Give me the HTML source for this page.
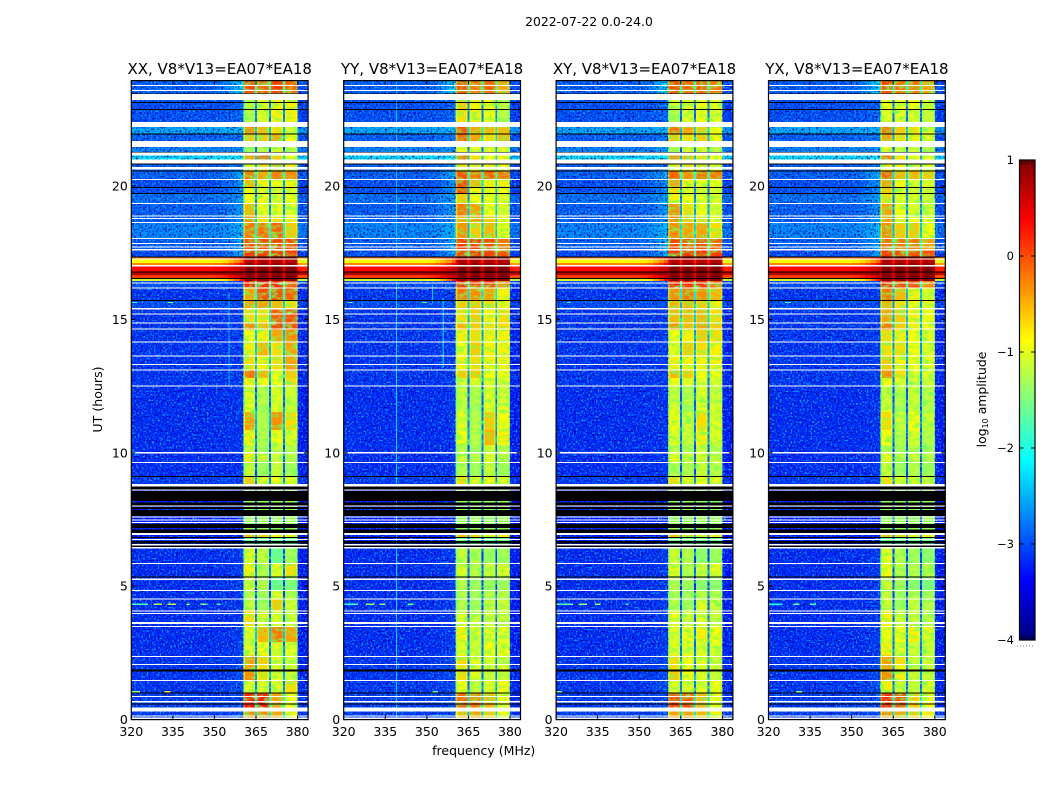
<!DOCTYPE html>
<html lang="en">
<head>
<meta charset="utf-8">
<title>2022-07-22 spectrogram</title>
<style>
html,body{margin:0;padding:0;background:#fff;width:1050px;height:800px;overflow:hidden}
svg{display:block}
text{font-family:"DejaVu Sans","Liberation Sans",sans-serif;fill:#000}
</style>
</head>
<body>
<svg id="chart" xmlns="http://www.w3.org/2000/svg" width="1050" height="800" viewBox="0 0 1050 800">
<defs>
<filter id="speckleLight" x="0" y="0" width="1" height="1" color-interpolation-filters="sRGB">
<feTurbulence type="fractalNoise" baseFrequency="0.55" numOctaves="1" seed="3"/>
<feColorMatrix type="matrix" values="0 0 0 0 0  0 0 0 0 0.72  0 0 0 0 1  3.6 0 0 0 -1.75"/>
</filter>
<filter id="speckleDark" x="0" y="0" width="1" height="1" color-interpolation-filters="sRGB">
<feTurbulence type="fractalNoise" baseFrequency="0.55" numOctaves="1" seed="11"/>
<feColorMatrix type="matrix" values="0 0 0 0 0  0 0 0 0 0  0 0 0 0 0.62  0 3.6 0 0 -1.75"/>
</filter>
<filter id="bandMottle" x="0" y="0" width="1" height="1" color-interpolation-filters="sRGB">
<feTurbulence type="fractalNoise" baseFrequency="0.14 0.28" numOctaves="2" seed="7"/>
<feColorMatrix type="matrix" values="0 0 0 0 0.45  0 0 0 0 1  0 0 0 0 0.35  2.4 0 0 0 -1.05"/>
</filter>
</defs>
<text x="589" y="26" font-size="12.4" text-anchor="middle">2022-07-22 0.0-24.0</text>
<text x="483.7" y="755" font-size="12.5" text-anchor="middle">frequency (MHz)</text>
<text transform="translate(102,399.5) rotate(-90)" font-size="12.6" text-anchor="middle">UT (hours)</text>
<text transform="translate(986,399.5) rotate(-90)" font-size="12.4" text-anchor="middle">log<tspan font-size="8" dy="2">10</tspan><tspan dy="-2"> amplitude</tspan></text>
<g id="panels"></g>
<g id="colorbar"></g>
</svg>
<script>
// ---- Figure data (log10 amplitude, UT hours, MHz) ----
const panelTitles = ["XX, V8*V13=EA07*EA18","YY, V8*V13=EA07*EA18","XY, V8*V13=EA07*EA18","YX, V8*V13=EA07*EA18"];
const freqTicks = [320,335,350,365,380];
const utTicks = [0,5,10,15,20];
const colorbarTicks = [-4,-3,-2,-1,0,1];

// Lower UT bound of each time segment, newest first
const segmentLowerUT = [23.47,22.86,22.4,21.94,21.68,21.28,21.0,20.56,20.22,19.95,19.72,19.35,18.86,18.63,18.04,17.6,17.33,17.25,17.12,17.0,16.78,16.66,16.55,16.44,16.39,16.2,15.72,15.43,14.87,14.6,14.15,13.63,13.1,12.8,12.5,11.8,11.52,10.86,10.3,10.0,9.65,9.13,8.83,7.0,6.8,6.47,5.87,5.34,4.85,4.52,4.1,3.5,2.9,2.4,2.08,1.88,1.48,1.0,0.73,0.45,0];
// Off-band background level and the raised level close to the band edge
const backgroundLevel = [-2.9,-3.0,-3.0,-2.5,-2.9,-2.7,-2.2,-2.9,-2.9,-3.0,-3.0,-2.8,-2.9,-2.9,-2.7,-2.9,-3.0,-0.2,-0.9,-0.3,0.35,0.75,0.1,-1.1,-3.0,-3.0,-3.15,-3.0,-3.15,-3.15,-3.15,-3.15,-3.15,-3.15,-3.15,-3.2,-3.2,-3.2,-3.2,-3.2,-3.2,-3.2,-3.1,-3.3,-3.3,-3.3,-3.2,-3.2,-3.2,-3.2,-3.2,-3.2,-3.2,-3.2,-3.15,-3.15,-3.15,-3.15,-3.1,-3.1,-3.1];
const bandEdgeLevel = [-2.2,-2.85,-2.85,-2.4,-2.75,-2.6,-2.1,-2.75,-2.45,-2.6,-2.6,-2.5,-2.55,-2.55,-2.4,-2.45,-2.45,0.3,-0.1,0.4,0.7,0.95,0.7,0.3,-3.0,-3.0,-3.1,-3.0,-3.1,-3.1,-3.1,-3.1,-3.1,-3.1,-3.1,-3.15,-3.15,-3.15,-3.15,-3.15,-3.15,-3.15,-3.1,-3.3,-3.3,-3.3,-3.1,-3.1,-3.1,-3.1,-3.1,-3.1,-3.1,-3.1,-3.0,-3.0,-3.0,-3.0,-3.0,-3.0,-3.0];

// Level of the four 5-MHz sub-bands, per segment, per polarisation
const subbandsXX = [
[0.05,-0.1,0.1,-0.1],[-1.2,-1.0,-0.8,-0.8],[-1.2,-1.0,-0.8,-0.8],[-0.3,-0.5,-0.7,-1.1],[-0.6,-0.6,-0.4,-0.9],[-1.3,-1.2,-1.0,-1.2],[-0.4,-0.1,-0.6,-0.9],[-0.9,-0.7,-0.5,-0.8],[-0.2,-0.4,-0.2,-0.3],[-0.5,-0.8,-0.9,-0.8],
[-0.9,-1.0,-1.1,-1.0],[-0.9,-0.9,-1.0,-0.9],[-0.5,-0.9,-0.9,-1.0],[-0.3,-0.7,-0.7,-0.8],[-0.2,-0.2,-0.1,-0.6],[0.0,0.0,0.05,0.0],[0.1,0.1,0.1,0.1],[0.95,0.95,0.95,0.95],[0.75,0.75,0.75,0.75],[0.9,0.9,0.9,0.9],
[1.0,1.0,1.0,1.0],[1.0,1.0,1.0,1.0],[1.0,1.0,1.0,1.0],[0.95,0.95,0.95,0.95],[0.3,0.3,0.3,0.0],[0.2,0.2,0.2,-0.1],[-0.4,0.0,0.0,-0.1],[-0.4,-0.4,-0.5,-0.7],[-0.7,-0.7,-0.05,0.0],[-0.3,-0.5,0.05,0.0],
[-0.9,-0.8,-0.4,-0.3],[-0.8,-0.5,-0.7,-0.4],[-0.7,-0.8,-0.7,-0.4],[-0.2,-0.5,-0.9,-0.6],[-0.8,-0.9,-0.9,-0.7],[-1.0,-1.2,-1.0,-1.1],[-0.9,-1.3,-1.0,-1.1],[-0.4,-1.2,-0.3,-0.7],[-0.8,-1.2,-0.9,-1.0],[-1.1,-1.3,-1.1,-1.2],
[-0.8,-1.1,-1.1,-1.2],[-1.1,-1.3,-1.1,-1.3],[-0.6,-1.0,-0.9,-1.0],[-1.3,-1.3,-1.3,-1.3],[-0.5,-0.6,-0.8,-0.8],[-1.6,-1.6,-1.6,-1.6],[-1.0,-1.1,-1.6,-1.3],[-0.8,-1.2,-1.0,-0.7],[-1.1,-1.2,-1.6,-1.5],[-1.2,-1.3,-1.0,-1.2],
[-1.1,-1.3,-0.6,-1.1],[-0.7,-1.0,-1.0,-1.1],[-1.0,-0.5,-0.2,-0.4],[-1.0,-0.9,-1.0,-1.0],[-0.4,-0.6,-1.0,-1.1],[-0.4,-0.7,-1.0,-1.0],[-0.3,-0.7,-1.0,-1.1],[-1.0,-1.0,-1.0,-0.7],[0.2,0.2,-0.4,-0.9],[0.3,0.25,-0.4,-0.9],[-0.3,-0.3,-0.4,-0.8]];
const subbandsYY = [
[0.0,-0.2,-0.1,-0.4],[-0.6,-0.8,-0.9,-1.2],[-0.7,-0.8,-0.9,-1.2],[0.0,-0.4,-0.5,-0.5],[-0.1,-0.4,-0.7,-0.5],[-0.9,-1.0,-1.0,-1.0],[-0.2,-0.7,-0.9,-0.8],[-0.7,-0.8,-0.8,-0.9],[0.0,-0.2,-0.1,-0.2],[0.0,-0.5,-0.8,-0.8],
[0.0,-0.8,-0.9,-0.9],[-0.6,-0.9,-0.9,-1.0],[-0.2,-0.4,-0.9,-1.0],[-0.4,-0.4,-0.6,-0.8],[-0.3,-0.6,-0.5,-0.9],[0.1,0.1,0.0,-0.2],[0.1,0.1,0.1,0.0],[0.95,0.95,0.95,0.95],[0.75,0.75,0.75,0.75],[0.9,0.9,0.9,0.9],
[1.0,1.0,1.0,1.0],[1.0,1.0,1.0,1.0],[1.0,1.0,1.0,1.0],[0.95,0.95,0.95,0.95],[0.3,0.2,0.2,-0.2],[0.2,0.0,0.0,-0.3],[-0.2,-0.3,-0.4,-0.8],[-0.6,-0.6,-0.7,-0.8],[-0.7,-0.6,-0.8,-0.7],[-0.5,-0.6,-0.7,-0.7],
[-0.8,-0.7,-0.8,-0.8],[-0.9,-0.6,-0.8,-0.8],[-0.8,-0.7,-0.8,-0.8],[-0.6,-0.6,-0.9,-0.9],[-1.0,-1.0,-1.0,-1.0],[-1.1,-1.2,-1.0,-1.1],[-1.1,-1.3,-1.0,-1.0],[-1.0,-1.2,-0.6,-0.9],[-0.9,-1.2,-0.5,-0.8],[-1.2,-1.3,-1.0,-1.2],
[-1.1,-1.2,-1.0,-1.2],[-1.2,-1.3,-1.1,-1.3],[-0.7,-1.0,-0.9,-1.0],[-1.3,-1.3,-1.3,-1.3],[-0.5,-0.6,-0.8,-0.8],[-1.6,-1.6,-1.6,-1.6],[-1.1,-1.2,-1.3,-1.3],[-1.0,-1.2,-1.1,-1.0],[-1.2,-1.3,-1.3,-1.3],[-1.2,-1.3,-1.2,-1.2],
[-1.2,-1.3,-1.1,-1.1],[-1.0,-1.1,-1.1,-1.1],[-0.8,-1.0,-1.0,-1.0],[-1.0,-1.1,-0.9,-0.9],[-0.7,-1.0,-1.0,-1.1],[-0.7,-1.0,-1.0,-1.0],[-0.7,-1.0,-1.1,-1.1],[-0.9,-1.1,-1.0,-0.9],[-0.1,-0.3,-0.5,-0.9],[0.0,-0.2,-0.5,-0.9],[-0.5,-0.4,-0.6,-0.9]];
const subbandsXY = [
[0.0,-0.1,-0.1,-0.2],[-1.1,-1.0,-0.9,-1.0],[-1.2,-1.0,-0.9,-1.0],[-0.2,-0.4,-0.6,-0.9],[-0.6,-0.7,-0.6,-0.9],[-1.2,-1.1,-1.0,-1.2],[-0.3,-0.5,-0.7,-0.9],[-0.8,-0.7,-0.7,-0.9],[-0.1,-0.3,-0.2,-0.2],[-0.4,-0.8,-0.9,-0.9],
[-0.7,-1.0,-1.0,-1.0],[-0.8,-0.9,-1.0,-1.0],[-0.3,-0.7,-0.9,-1.0],[-0.3,-0.6,-0.7,-0.9],[-0.3,-0.4,-0.4,-0.7],[0.05,0.0,0.0,-0.1],[0.1,0.1,0.1,0.1],[0.95,0.95,0.95,0.95],[0.75,0.75,0.75,0.75],[0.9,0.9,0.9,0.9],
[1.0,1.0,1.0,1.0],[1.0,1.0,1.0,1.0],[1.0,1.0,1.0,1.0],[0.95,0.95,0.95,0.95],[0.3,0.3,0.2,0.0],[0.2,0.1,0.1,-0.2],[-0.3,-0.2,-0.3,-0.5],[-0.5,-0.5,-0.6,-0.8],[-0.5,-0.5,-0.5,-0.7],[-0.3,-0.5,-0.4,-0.6],
[-0.9,-0.8,-0.6,-0.7],[-0.9,-0.6,-0.7,-0.8],[-0.8,-0.8,-0.8,-0.8],[-0.5,-0.6,-0.9,-0.9],[-0.9,-1.0,-1.0,-1.0],[-1.1,-1.2,-1.0,-1.1],[-1.0,-1.3,-1.0,-1.0],[-0.9,-1.1,-0.7,-1.0],[-1.0,-1.1,-0.8,-1.0],[-1.2,-1.2,-1.1,-1.2],
[-1.0,-1.1,-1.0,-1.1],[-1.2,-1.2,-1.1,-1.2],[-0.7,-1.0,-0.9,-1.0],[-1.3,-1.3,-1.3,-1.3],[-0.5,-0.6,-0.8,-0.8],[-1.6,-1.6,-1.6,-1.6],[-1.1,-1.2,-1.4,-1.3],[-0.9,-1.2,-1.1,-1.0],[-1.2,-1.3,-1.4,-1.4],[-1.2,-1.3,-1.2,-1.2],
[-1.2,-1.3,-1.0,-1.1],[-0.9,-1.1,-1.0,-1.1],[-1.0,-0.9,-0.8,-0.9],[-1.0,-1.0,-1.0,-1.0],[-0.7,-0.9,-1.0,-1.1],[-0.7,-0.9,-1.0,-1.0],[-0.6,-0.9,-1.0,-1.1],[-1.0,-1.0,-1.0,-0.9],[0.0,-0.1,-0.5,-0.9],[0.1,0.0,-0.5,-0.9],[-0.4,-0.4,-0.5,-0.8]];
const subbandsYX = [
[0.0,-0.2,-0.2,-0.4],[-0.9,-1.0,-0.9,-1.1],[-1.0,-1.0,-1.0,-1.1],[-0.2,-0.6,-0.7,-1.0],[-0.4,-0.7,-0.8,-1.0],[-1.0,-1.1,-1.1,-1.2],[-0.2,-0.7,-0.9,-1.0],[-0.8,-0.8,-0.8,-1.0],[-0.1,-0.5,-0.5,-0.6],[-0.4,-0.9,-1.0,-1.0],
[-0.6,-1.0,-1.1,-1.1],[-0.7,-1.0,-1.0,-1.1],[-0.4,-0.9,-1.0,-1.1],[-0.4,-0.8,-0.9,-1.0],[-0.3,-0.6,-0.6,-0.9],[-0.1,-0.2,-0.2,-0.4],[0.1,0.0,0.0,0.0],[0.95,0.95,0.95,0.95],[0.75,0.75,0.75,0.75],[0.9,0.9,0.9,0.9],
[1.0,1.0,1.0,1.0],[1.0,1.0,1.0,1.0],[1.0,1.0,1.0,1.0],[0.95,0.95,0.95,0.95],[0.2,0.1,0.1,-0.2],[0.1,0.0,0.0,-0.3],[-0.2,-0.5,-0.8,-1.0],[-0.5,-0.7,-0.9,-1.0],[-0.4,-0.6,-0.8,-0.9],[-0.2,-0.6,-0.8,-0.9],
[-0.7,-0.8,-0.9,-1.0],[-0.7,-0.7,-0.9,-1.0],[-0.6,-0.8,-0.9,-1.0],[-0.3,-0.7,-1.0,-1.0],[-0.9,-1.0,-1.1,-1.1],[-1.1,-1.2,-1.1,-1.2],[-1.0,-1.3,-1.1,-1.2],[-0.7,-1.1,-0.9,-1.1],[-0.9,-1.2,-1.0,-1.2],[-1.2,-1.3,-1.2,-1.3],
[-1.0,-1.2,-1.1,-1.2],[-1.1,-1.3,-1.2,-1.3],[-0.7,-1.0,-1.0,-1.1],[-1.3,-1.3,-1.3,-1.3],[-0.5,-0.6,-0.8,-0.8],[-1.6,-1.6,-1.6,-1.6],[-1.0,-1.2,-1.3,-1.4],[-0.9,-1.2,-1.2,-1.2],[-1.1,-1.3,-1.4,-1.5],[-1.1,-1.3,-1.2,-1.3],
[-1.1,-1.3,-1.1,-1.2],[-0.8,-1.1,-1.1,-1.2],[-0.9,-0.9,-0.8,-1.0],[-0.8,-1.0,-1.1,-1.1],[-0.4,-0.7,-1.1,-1.1],[-0.4,-0.8,-1.1,-1.1],[-0.3,-0.8,-1.1,-1.1],[-0.8,-1.1,-1.1,-1.0],[0.15,0.0,-0.6,-0.9],[0.2,0.0,-0.6,-0.9],[-0.3,-0.4,-0.6,-0.8]];

// Fully flagged (blank) time ranges, [lower UT, upper UT]
const flaggedRanges = [[0.03,0.07],[0.12,0.155],[0.30,0.46],[0.65,0.69],[0.84,0.88],[1.45,1.49],[2.05,2.09],[2.35,2.39],[3.47,3.51],[3.58,3.66],[3.96,4.00],[4.05,4.09],[4.50,4.54],[4.82,4.86],[5.24,5.28],[5.83,5.87],[6.41,6.47],[6.53,6.59],[6.73,6.77],[6.92,7.0],[7.37,7.41],[7.46,7.50],[7.58,7.62],[7.99,8.03],[8.59,8.63],[8.74,8.83],[9.61,9.65],[9.97,10.03],[12.48,12.52],[13.08,13.12],[13.29,13.33],[13.61,13.65],[14.13,14.17],[14.62,14.66],[14.85,14.89],[15.19,15.23],[15.37,15.43],[16.16,16.2],[16.35,16.39],[16.99,17.03],[17.25,17.28],[17.59,17.63],[17.70,17.74],[17.82,17.86],[18.02,18.06],[18.61,18.65],[18.76,18.80],[18.86,18.9],[19.33,19.37],[20.22,20.26],[20.62,20.72],[20.85,21.0],[21.15,21.25],[21.46,21.68],[22.22,22.4],[23.22,23.45],[23.57,23.6],[23.75,23.78]];
// Time ranges drawn black (no signal), [lower UT, upper UT]
const blackRanges = [[0.57,0.6],[0.98,1.02],[1.81,1.88],[5.34,5.37],[6.47,6.53],[6.6,6.7],[6.80,6.85],[7.0,7.12],[7.18,7.33],[7.63,7.85],[7.9,7.97],[8.03,8.14],[8.2,8.57],[8.63,8.74],[9.1,9.13],[15.7,15.73],[16.53,16.56],[16.76,16.79],[17.32,17.35],[19.72,19.74],[19.94,19.97],[20.56,20.59],[20.82,20.85],[21.25,21.28],[21.93,21.96],[22.86,22.89],[23.12,23.15],[23.43,23.46]];
// Narrow interference: [panel, MHz low, MHz high, UT low, UT high, level]
const interference = [
[0,355,355.3,12.5,16.0,-2.5],[1,338.8,339.1,0,16.4,-2.3],[1,338.8,339.1,17.4,23.9,-2.4],[1,355.7,356,13.2,15.8,-2.5],[1,351.9,352.2,15.6,16.3,-2.4],
[0,320,326,4.31,4.35,-1.8],[0,328,331,4.31,4.35,-1.3],[0,333,336,4.31,4.35,-1.2],[0,340,341,4.31,4.35,-1.6],[0,345,347,4.31,4.35,-1.5],[0,351,352,4.31,4.35,-1.8],
[1,320,325,4.31,4.35,-1.9],[1,328,331,4.31,4.35,-1.4],[1,333,335,4.31,4.35,-1.5],[1,343,345,4.31,4.35,-1.7],
[2,320,326,4.31,4.35,-1.7],[2,328,331,4.31,4.35,-1.4],[2,334,336,4.31,4.35,-1.4],[2,345,346,4.31,4.35,-1.8],
[3,320,325,4.31,4.35,-2.0],[3,329,331,4.31,4.35,-1.6],[3,335,337,4.31,4.35,-1.7],
[0,320,322,15.62,15.66,-1.9],[0,333,335,15.62,15.66,-1.4],[1,322,323,15.62,15.66,-1.6],[1,348,350,15.62,15.66,-1.6],[2,324,325,15.62,15.66,-1.7],[3,326,328,15.62,15.66,-1.8],
[0,320,323,1.03,1.07,-1.5],[0,332,334,1.03,1.07,-1.0],[2,320,322,1.03,1.07,-1.6],[3,330,332,1.03,1.07,-1.5],[1,352,354,1.03,1.07,-1.7]];
const speckleRanges = [[0,16.42],[17.36,23.95]];

// ---- Layout ----
const NS = "http://www.w3.org/2000/svg";
const svg = document.getElementById("panels");
const cbar = document.getElementById("colorbar");
const panelLeft = [131.3,343.7,556.1,768.5];
const panelWidth = 176.8;
const freqMin = 320, freqMax = 383.8;
const utMax = 23.95;
const subbandsByPanel = [subbandsXX,subbandsYY,subbandsXY,subbandsYX];
const bandEdges = [[360.4,364.7],[365.3,369.7],[370.3,374.7],[375.3,380]];
const backgroundEdges = [320,330,340,345,350,353,355,357,359,360.4];
const rampWeights = [0,0,0,0,0.1,0.25,0.45,0.7,1];

function xScale(p,f){return panelLeft[p]+(f-freqMin)/(freqMax-freqMin)*panelWidth;}
function yScale(ut){return 719.6-26.68*ut;}
function cbarY(v){return 640-(v+4)*96;}
function clip01(a){return Math.max(0,Math.min(1,a));}
function jet(v){
  const t=clip01((v+4)/5);
  const c=k=>Math.round(255*clip01(1.5-Math.abs(4*t-k)));
  return "rgb("+c(3)+","+c(2)+","+c(1)+")";
}
function shape(tag,attrs,parent){
  const el=document.createElementNS(NS,tag);
  for(const k in attrs){el.setAttribute(k,attrs[k]);}
  parent.appendChild(el);
  return el;
}

panelTitles.forEach(function(title,p){
  const g=shape("g",{},svg);
  
  
  const left=panelLeft[p],right=left+panelWidth,top=yScale(utMax),bottom=yScale(0);
  const subbands=subbandsByPanel[p];

  function cell(f0,f1,ut0,ut1,level){
    const c=shape("rect",{x:xScale(p,f0),y:yScale(ut1),width:xScale(p,f1)-xScale(p,f0)+0.3,height:yScale(ut0)-yScale(ut1)+0.3,fill:jet(level),"shape-rendering":"crispEdges"},g);
    
    
  }

  segmentLowerUT.forEach(function(lower,s){
    const upper=s===0?utMax:segmentLowerUT[s-1];
    const bg=backgroundLevel[s],edge=bandEdgeLevel[s],levels=subbands[s];
    rampWeights.forEach(function(w,i){
      cell(backgroundEdges[i],backgroundEdges[i+1],lower,upper,bg+(edge-bg)*w);
    });
    let sum=0;
    levels.forEach(function(level,b){
      const e=bandEdges[b];
      sum+=level;
      cell(e[0],e[0]+0.6,lower,upper,level-(b===0?0.4:0.15));
      cell(e[0]+0.6,e[1]-0.5,lower,upper,level);
      cell(e[1]-0.5,e[1],lower,upper,level-0.15);
    });
    const mean=sum/4;
    const gap=mean>0.5?mean-0.5:Math.max(mean-1.9,-3.3);
    cell(364.7,365.3,lower,upper,gap);
    cell(369.7,370.3,lower,upper,gap);
    cell(374.7,375.3,lower,upper,gap);
    cell(380,381,lower,upper,bg-0.05);
    cell(381,freqMax,lower,upper,bg-0.1);
  });

  speckleRanges.forEach(function(r){
    const spans=[[320,360.4],[380,freqMax]];
    spans.forEach(function(sp){
      const a={x:xScale(p,sp[0]),y:yScale(r[1]),width:xScale(p,sp[1])-xScale(p,sp[0]),height:yScale(r[0])-yScale(r[1])};
      const l=shape("rect",Object.assign({filter:"url(#speckleLight)"},a),g);
      
      
      const d=shape("rect",Object.assign({filter:"url(#speckleDark)"},a),g);
      
      
    });
    const m=shape("rect",{x:xScale(p,360.4),y:yScale(r[1]),width:xScale(p,380)-xScale(p,360.4),height:yScale(r[0])-yScale(r[1]),filter:"url(#bandMottle)"},g);
    
    
  });

  interference.forEach(function(r){
    if(r[0]===p){cell(r[1],r[2],r[3],r[4],r[5]);}
  });

  blackRanges.forEach(function(r){
    const b=shape("rect",{x:left,y:yScale(r[1]),width:panelWidth,height:Math.max(1,yScale(r[0])-yScale(r[1])),fill:"#000","shape-rendering":"crispEdges"},g);
    
    
  });
  flaggedRanges.forEach(function(r){
    const b=shape("rect",{x:left,y:yScale(r[1]),width:panelWidth,height:Math.max(1,yScale(r[0])-yScale(r[1])),fill:"#fff","shape-rendering":"crispEdges"},g);
    
    
  });

  const frame=shape("rect",{x:left,y:top,width:panelWidth,height:bottom-top,fill:"none",stroke:"#000","stroke-width":1.2},g);
  
  

  const head=shape("text",{x:left+panelWidth/2,y:74,"font-size":15,"text-anchor":"middle"},g);
  head.textContent=title;
  
  

  freqTicks.forEach(function(f){
    const x=xScale(p,f);
    [[bottom,bottom-4],[top,top+4]].forEach(function(t){
      const l=shape("line",{x1:x,x2:x,y1:t[0],y2:t[1],stroke:"#000","stroke-width":1},g);
      
      
    });
    const label=shape("text",{x:x,y:736,"font-size":12.5,"text-anchor":"middle"},g);
    label.textContent=String(f);
    
    
  });
  utTicks.forEach(function(u){
    const y=yScale(u);
    [[left,left+4],[right,right-4]].forEach(function(t){
      const l=shape("line",{x1:t[0],x2:t[1],y1:y,y2:y,stroke:"#000","stroke-width":1},g);
      
      
    });
    const label=shape("text",{x:left-3.5,y:y+4.5,"font-size":12.5,"text-anchor":"end"},g);
    label.textContent=String(u);
    
    
  });
});

// ---- Colorbar ----
const cbLeft=1019.5,cbWidth=15.5;
for(let i=0;i<240;i++){
  const v=-4+i/48;
  const seg=shape("rect",{x:cbLeft,y:cbarY(v+1/48),width:cbWidth,height:2.2,fill:jet(v+1/96),"shape-rendering":"crispEdges"},cbar);
  
  
}
const cbFrame=shape("rect",{x:cbLeft,y:cbarY(1),width:cbWidth,height:480,fill:"none",stroke:"#000","stroke-width":1.2},cbar);


colorbarTicks.forEach(function(v){
  const y=cbarY(v);
  [[cbLeft,cbLeft+4],[cbLeft+cbWidth,cbLeft+cbWidth-4]].forEach(function(t){
    const l=shape("line",{x1:t[0],x2:t[1],y1:y,y2:y,stroke:"#000","stroke-width":1},cbar);
    
    
  });
  const label=shape("text",{x:1014,y:y+4,"font-size":11.5,"text-anchor":"end"},cbar);
  label.textContent=(v<0?"\u2212":"")+Math.abs(v);
  
  
});
[2.5,5.8,9.1,12.4].forEach(function(dx){
  [[160,165],[635,640]].forEach(function(t){
    const l=shape("line",{x1:cbLeft+dx,x2:cbLeft+dx,y1:t[0],y2:t[1],stroke:"#000","stroke-width":0.8},cbar);
    
    
  });
});
const dots=shape("line",{x1:1017,x2:1035,y1:646,y2:646,stroke:"#777","stroke-width":1,"stroke-dasharray":"1 2"},cbar);


</script>
</body>
</html>
